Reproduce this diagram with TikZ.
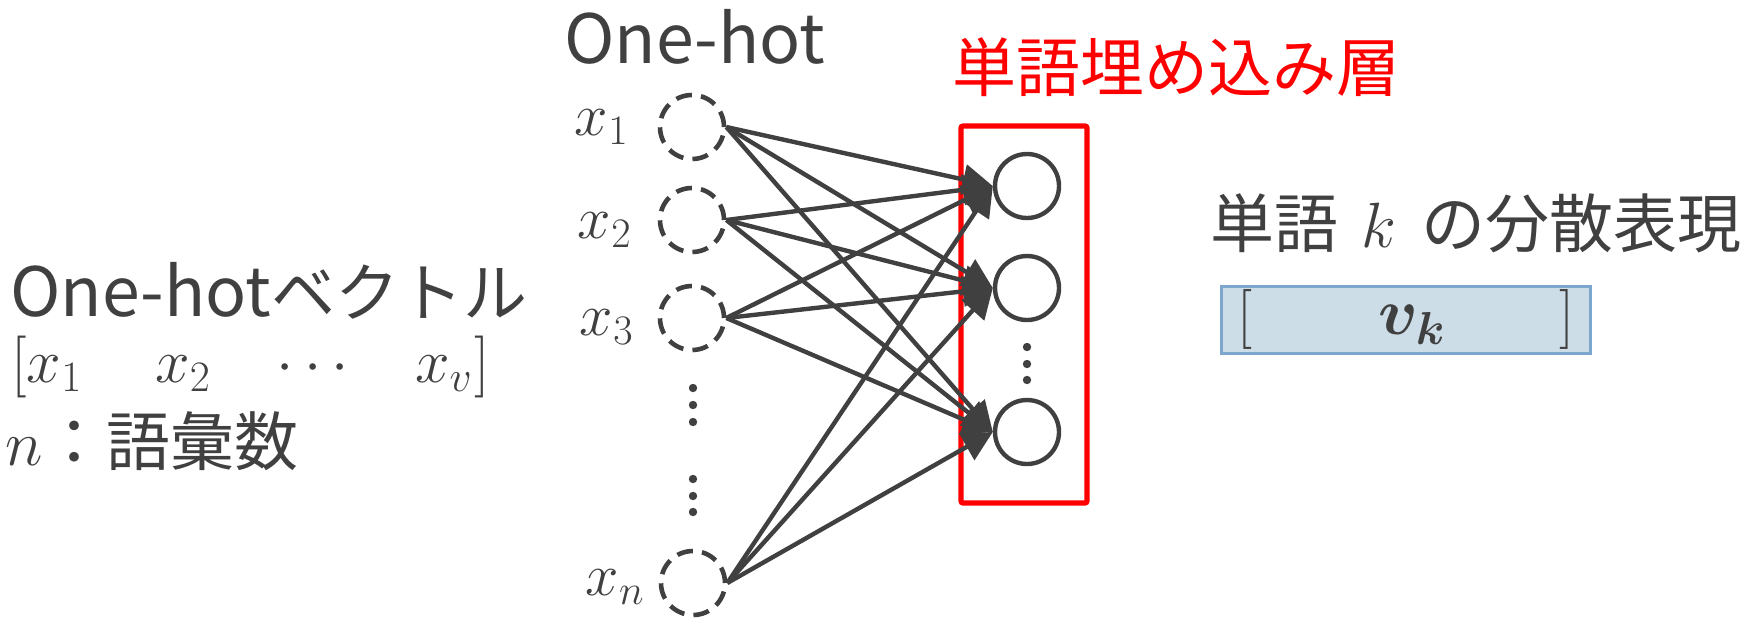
\RequirePackage{fix-cm}
\documentclass[tikz,border=0pt]{standalone}
\usepackage{bm}
\usepackage{fontspec}
\setmainfont{Noto Sans CJK JP}
\usetikzlibrary{arrows.meta}
\definecolor{ink}{HTML}{404040}
\definecolor{boxfill}{HTML}{CCDDE8}
\definecolor{boxline}{HTML}{7DA7CC}
\definecolor{layerred}{HTML}{FF0000}
\newcommand{\bigfont}{\fontsize{34pt}{40pt}\selectfont}
\newcommand{\mainsz}{\fontsize{32pt}{38pt}\selectfont}
\begin{document}
\begin{tikzpicture}[x=0.5pt,y=-0.5pt,
  srcnode/.style={circle,draw=ink,line width=2.3pt,dash pattern=on 8pt off 4.6pt,minimum size=32pt,inner sep=0pt},
  tgtnode/.style={circle,draw=ink,line width=2.2pt,minimum size=32pt,inner sep=0pt},
  conn/.style={draw=ink,line width=2.2pt,-{Triangle[length=15pt,width=15pt]}},
  txt/.style={text=ink,inner sep=0pt,font=\mainsz},
  lbl/.style={text=ink,inner sep=0pt,font=\fontsize{30pt}{36pt}\selectfont},
  layerbox/.style={draw=layerred,line width=2.6pt,rounded corners=1pt,minimum width=63pt,minimum height=188.5pt,inner sep=0pt},
  vecbox/.style={draw=boxline,fill=boxfill,line width=1.5pt,minimum width=184.5pt,minimum height=33.5pt,inner sep=0pt,text=ink,font=\fontsize{30pt}{36pt}\selectfont},
  dotfill/.style={fill=ink}]
\useasboundingbox (0,0) rectangle (1754,617);

% titles
\node[txt,anchor=base west,font=\bigfont] (hdr) at (564,63) {One-hot};
\node[txt,text=layerred,anchor=center] (layertitle) at (1176,67.5) {単語埋め込み層};

% input nodes
\node[srcnode] (s1) at (692,127) {};
\node[srcnode] (s2) at (692,220) {};
\node[srcnode] (s3) at (692,318) {};
\node[srcnode] (sn) at (693,583) {};
\node[lbl,anchor=base east] (l1) at (629,135) {$x_1$};
\node[lbl,anchor=base east] (l2) at (632,238) {$x_2$};
\node[lbl,anchor=base east] (l3) at (634,335) {$x_3$};
\node[lbl,anchor=base east] (ln) at (645,595) {$x_n$};

% vertical dots (inputs)
\foreach \yy in {388,405,422,479,496,512} \fill[dotfill] (693,\yy) circle (2.1pt);

% embedding layer
\node[layerbox] (layer) at (1024,314.5) {};
\node[tgtnode] (t1) at (1027,186) {};
\node[tgtnode] (t2) at (1027,288) {};
\node[tgtnode] (t3) at (1027,432) {};
\foreach \yy in {347,364,380} \fill[dotfill] (1027,\yy) circle (2.1pt);

% connections
\foreach \s in {s1,s2,s3,sn}
  \foreach \t in {t1,t2,t3}
    \draw[conn] (\s.east) -- (\t.west);

% left description
\node[txt,anchor=base west] (desc1) at (10,316) {{\bigfont One-hot}ベクトル};
\node[txt,anchor=base west,font=\fontsize{31pt}{37pt}\selectfont] (desc2) at (11,382)
  {$[{x_1}\hspace{36.5pt}{x_2}\hspace{33pt}{\cdots}\hspace{33pt}{x_v}\hspace{1pt}]$};
\node[txt,anchor=base west] (desc3) at (5,465) {$n$：語彙数};

% right description
\node[txt,anchor=base west] (rdesc) at (1210,247) {単語\hspace{11.5pt}$k$\hspace{12.5pt}の分散表現};
\node[vecbox] (vk) at (1405.5,319.5)
  {\makebox[168.5pt]{$[$\hfill\hspace{6.5pt}{\fontsize{33pt}{40pt}\selectfont$\bm{v_k}$}\hfill$]$}\hspace{7pt}};
\end{tikzpicture}
\end{document}
